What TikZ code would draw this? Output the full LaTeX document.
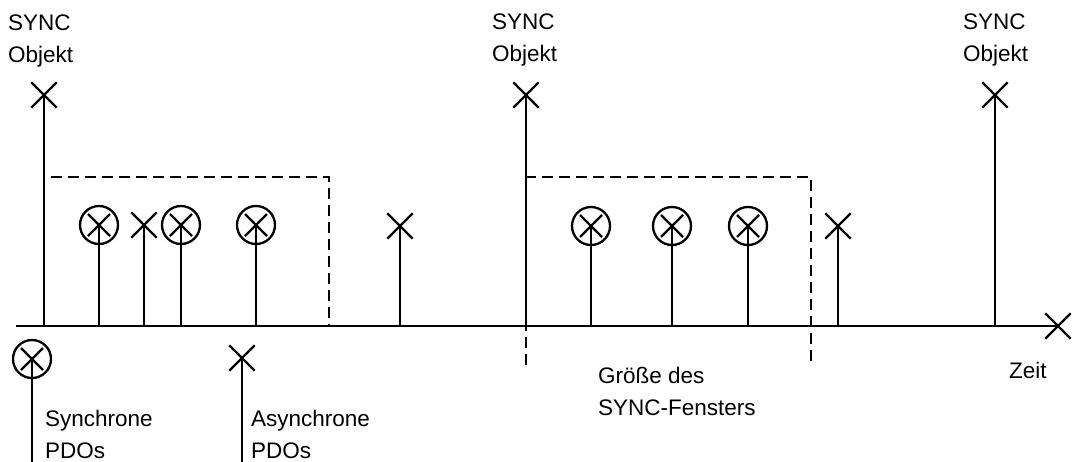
\documentclass[tikz,border=0pt]{standalone}
\usepackage{fontspec}
\setmainfont{Liberation Sans}
\usetikzlibrary{shapes.misc}
\begin{document}
\begin{tikzpicture}[x=1pt,y=-1pt,
  solidline/.style={line width=2.5pt},
  dashline/.style={line width=1.6pt, dash pattern=on 11pt off 6pt},
  xmark/.style={cross out, draw, line width=2.3pt, minimum size=23pt, inner sep=0pt},
  omark/.style={circle, draw, line width=2.3pt, minimum size=38pt, inner sep=0pt,
    path picture={\draw[line width=2.3pt] ([shift={(-11pt,-11pt)}]path picture bounding box.center) -- ([shift={(11pt,11pt)}]path picture bounding box.center);
                  \draw[line width=2.3pt] ([shift={(-11pt,11pt)}]path picture bounding box.center) -- ([shift={(11pt,-11pt)}]path picture bounding box.center);}},
  lbl/.style={anchor=base west, inner sep=0pt, font=\fontsize{22.5}{32}\selectfont}
]
\useasboundingbox (0,0) rectangle (1073,461);
\clip (0,0) rectangle (1073,461);

% axis
\coordinate (a0) at (16,326);
\node[xmark] (aend) at (1058,326) {};

% dashed windows
\draw[dashline] (44,177) rectangle (329,326);
\draw[dashline] (526,365) -- (526,177) -- (811,177) -- (811,365);
\draw[dashline] (526,326) -- (811,326);

\draw[solidline] (a0) -- (aend.center);

% SYNC objects
\node[xmark] (s1) at (44,95) {};
\node[xmark] (s2) at (526,95) {};
\node[xmark] (s3) at (995,95) {};
\foreach \n in {s1,s2,s3} \draw[solidline] (\n.center) -- (\n.center |- a0);

% PDOs
\node[omark] (o1) at (99,225) {};
\node[xmark] (x1) at (144,225) {};
\node[omark] (o2) at (181,225) {};
\node[omark] (o3) at (256,225) {};
\node[xmark] (x2) at (400,226) {};
\node[omark] (o4) at (591,226) {};
\node[omark] (o5) at (672,226) {};
\node[omark] (o6) at (748,226) {};
\node[xmark] (x3) at (838,226) {};
\foreach \n in {o1,x1,o2,o3,x2,o4,o5,o6,x3} \draw[solidline] (\n.center) -- (\n.center |- a0);

% legend
\node[omark] (lo) at (32,359) {};
\coordinate (lob) at (32,475);
\draw[solidline] (lo.center) -- (lob);
\node[xmark] (lx) at (242,358) {};
\coordinate (lxb) at (242,475);
\draw[solidline] (lx.center) -- (lxb);

% texts
\node[lbl] (t1a) at (8,30) {SYNC};
\node[lbl] (t1b) at (8,62) {Objekt};
\node[lbl] (t2a) at (492,29) {SYNC};
\node[lbl] (t2b) at (492,61) {Objekt};
\node[lbl] (t3a) at (963,29) {SYNC};
\node[lbl] (t3b) at (963,61) {Objekt};
\node[lbl] (ls1) at (45,426) {Synchrone};
\node[lbl] (ls2) at (45,458) {PDOs};
\node[lbl] (la1) at (251,426) {Asynchrone};
\node[lbl] (la2) at (251,458) {PDOs};
\node[lbl] (g1) at (598,383) {Größe des};
\node[lbl] (g2) at (598,415) {SYNC-Fensters};
\node[lbl] (zeit) at (1009,378) {Zeit};
\end{tikzpicture}
\end{document}
